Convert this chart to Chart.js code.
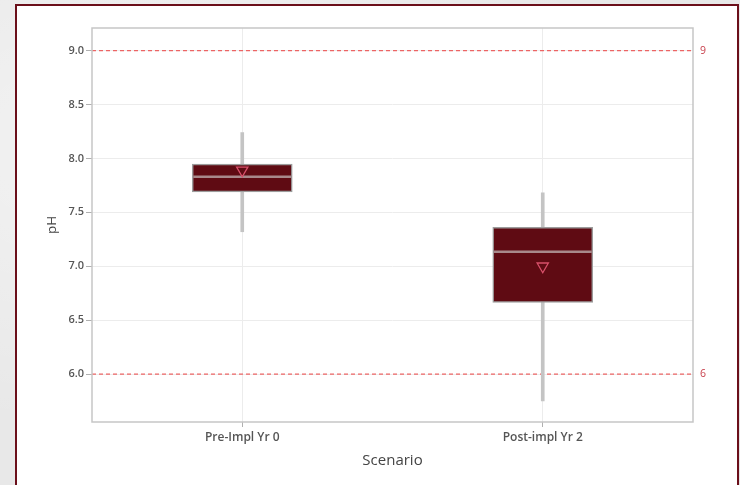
<!DOCTYPE html>
<html>
<head>
<meta charset="utf-8">
<script src="https://cdn.jsdelivr.net/npm/chart.js@4"></script>
<style>
  html, body { margin: 0; padding: 0; }
  body {
    width: 740px; height: 485px; overflow: hidden; position: relative;
    background: #e8e8e8;
    background-image:
      radial-gradient(ellipse at 20% 30%, rgba(255,255,255,0.5), rgba(255,255,255,0) 60%),
      radial-gradient(ellipse at 80% 70%, rgba(210,210,210,0.4), rgba(210,210,210,0) 60%);
  }
  #frame {
    position: absolute; left: 15px; top: 4px;
    width: 720px; height: 500px;
    border: 2px solid #6b0f1a; background: #fff;
  }
  #chart { position: absolute; left: 0; top: 0; }
</style>
</head>
<body>
<div id="frame"></div>
<canvas id="chart" width="740" height="485"></canvas>
<script>
// pH by scenario
const scenarios = ["Pre-Impl Yr 0", "Post-impl Yr 2"];
const whiskerLow = [7.32, 5.75];
const whiskerHigh = [8.24, 7.68];
const q1 = [7.69, 6.665];
const q3 = [7.947, 7.36];
const medians = [7.829, 7.134];
const means = [7.89, 7.0];
const refLines = [9, 6];
const yTicks = [6.0, 6.5, 7.0, 7.5, 8.0, 8.5, 9.0];

Chart.defaults.font.family = "'Open Sans', sans-serif";
Chart.defaults.color = "#444";

// reference lines (spec limits) plus the grey frame round the plot
const refLinePlugin = {
  id: "refLines",
  beforeDatasetsDraw(chart) {
    const { ctx, chartArea, scales } = chart;
    ctx.save();
    ctx.strokeStyle = "#ec6464";
    ctx.lineWidth = 1.3;
    ctx.setLineDash([4, 3]);
    ctx.fillStyle = "#c8404c";
    ctx.font = "10.5px 'Open Sans', sans-serif";
    ctx.textBaseline = "middle";
    refLines.forEach((v) => {
      const y = scales.y.getPixelForValue(v);
      ctx.beginPath();
      ctx.moveTo(chartArea.left, y);
      ctx.lineTo(chartArea.right, y);
      ctx.stroke();
      ctx.fillText(String(v), chartArea.right + 7, y);
    });
    ctx.restore();
  },
  afterDraw(chart) {
    const { ctx, chartArea } = chart;
    ctx.save();
    ctx.strokeStyle = "#c6c6c6";
    ctx.lineWidth = 1.5;
    ctx.strokeRect(chartArea.left, chartArea.top,
      chartArea.right - chartArea.left, chartArea.bottom - chartArea.top);
    ctx.restore();
  },
};

new Chart(document.getElementById("chart"), {
  type: "bar",
  data: {
    labels: scenarios,
    datasets: [
      {
        label: "Whisker",
        data: whiskerLow.map((v, i) => [v, whiskerHigh[i]]),
        backgroundColor: "#c4c4c4",
        barThickness: 3,
        grouped: false,
        order: 4,
      },
      {
        label: "IQR",
        data: q1.map((v, i) => [v, q3[i]]),
        backgroundColor: "#5f0b13",
        borderColor: "#9c9c9c",
        borderWidth: 1.5,
        borderSkipped: false,
        barThickness: 100,
        grouped: false,
        order: 3,
      },
      {
        type: "line",
        label: "Median",
        data: medians,
        showLine: false,
        pointStyle: "line",
        pointRadius: 49,
        pointBorderWidth: 2.5,
        pointBorderColor: "#a8898b",
        order: 2,
      },
      {
        type: "line",
        label: "Mean",
        data: means,
        showLine: false,
        pointStyle: "triangle",
        pointRotation: 180,
        pointRadius: 6.5,
        pointBorderWidth: 1.3,
        pointBorderColor: "#d8506a",
        pointBackgroundColor: "rgba(0,0,0,0)",
        order: 1,
      },
    ],
  },
  options: {
    responsive: false,
    animation: false,
    layout: { autoPadding: false, padding: { left: 0, right: 47, top: 28, bottom: 0 } },
    plugins: {
      legend: { display: false },
      tooltip: { enabled: false },
    },
    scales: {
      x: {
        offset: true,
        grid: { offset: false, color: "#ececec", tickColor: "#b0b0b0", tickLength: 5 },
        border: { display: false },
        ticks: { padding: 3, font: { size: 12, weight: "600" }, color: "#555" },
        title: {
          display: true,
          text: "Scenario",
          font: { size: 15 },
          color: "#444",
          padding: { top: 0, bottom: 15 },
        },
        afterFit(scale) { scale.height = 63; },
      },
      y: {
        min: 5.555,
        max: 9.21,
        grid: { color: "#ececec", tickColor: "#b0b0b0", tickLength: 6 },
        border: { display: false },
        afterBuildTicks(scale) {
          scale.ticks = yTicks.map((v) => ({ value: v }));
        },
        ticks: {
          padding: 2,
          font: { size: 11, weight: "600" },
          color: "#555",
          callback: (v) => Number(v).toFixed(1),
        },
        title: {
          display: true,
          text: "pH",
          font: { size: 13.5 },
          color: "#444",
          padding: { top: 44, bottom: 0 },
        },
        afterFit(scale) { scale.width = 92; },
      },
    },
  },
  plugins: [refLinePlugin],
});
</script>
</body>
</html>
